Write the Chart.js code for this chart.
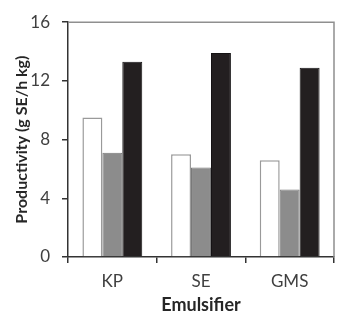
<!DOCTYPE html>
<html>
<head>
<meta charset="utf-8">
<script src="https://cdn.jsdelivr.net/npm/chart.js@4"></script>
<style>
  html, body { margin: 0; padding: 0; background: #fff; }
  #wrap { width: 350px; height: 316px; }
</style>
</head>
<body>
<div id="wrap"><canvas id="chart" width="350" height="316"></canvas></div>
<script>
// data
const emulsifiers = ['KP', 'SE', 'GMS']
const whiteBars = [9.5, 7.0, 6.6]
const greyBars = [7.1, 6.1, 4.6]
const blackBars = [13.3, 13.9, 12.9]
const yTicks = [0, 4, 8, 12, 16]

const FONT = 'Lato, "Open Sans", sans-serif'

// light grey frame on top and right of the plot
const frame = {
  id: 'frame',
  afterDraw(chart) {
    const { ctx, chartArea: a } = chart
    ctx.save()
    ctx.strokeStyle = '#8f8f8f'
    ctx.lineWidth = 1.5
    ctx.beginPath()
    ctx.moveTo(a.left, a.top)
    ctx.lineTo(a.right, a.top)
    ctx.lineTo(a.right, a.bottom)
    ctx.stroke()
    ctx.restore()
  }
}

const data = {
  labels: emulsifiers,
  datasets: [{
    label: 'Series 1',
    data: whiteBars,
    backgroundColor: '#ffffff',
    borderColor: '#9a9a9a',
    borderWidth: 1.5
  }, {
    label: 'Series 2',
    data: greyBars,
    backgroundColor: '#8c8c8c',
    borderColor: '#767676',
    borderWidth: 1
  }, {
    label: 'Series 3',
    data: blackBars,
    backgroundColor: '#231f20',
    borderColor: '#151314',
    borderWidth: 1
  }]
}

new Chart(document.getElementById('chart'), {
  type: 'bar',
  data: data,
  plugins: [frame],
  options: {
    responsive: false,
    animation: false,
    devicePixelRatio: 1,
    layout: { padding: { top: 22, right: 16, left: 0, bottom: 0 } },
    datasets: { bar: { categoryPercentage: 0.675, barPercentage: 1 } },
    plugins: { legend: { display: false }, tooltip: { enabled: false } },
    scales: {
      x: {
        grid: { offset: true, drawOnChartArea: false, drawTicks: true, tickLength: 6, color: '#333', lineWidth: 1.5 },
        border: { display: true, color: '#333', width: 1.5 },
        ticks: { color: '#404040', font: { family: FONT, size: 17 }, padding: 8 },
        title: { display: true, text: 'Emulsifier', color: '#262626', font: { family: FONT, size: 18, weight: 'bold' }, padding: { top: 0, bottom: 0 } },
        afterFit(scale) { scale.height = 59 }
      },
      y: {
        min: 0,
        max: 16,
        afterBuildTicks(scale) { scale.ticks = yTicks.map(v => ({ value: v })) },
        grid: { drawOnChartArea: false, drawTicks: true, tickLength: 6, color: '#333', lineWidth: 1.5 },
        border: { display: true, color: '#333', width: 1.5 },
        ticks: { color: '#404040', font: { family: FONT, size: 17 }, padding: 12 },
        title: { display: true, text: 'Productivity (g SE/h kg)', color: '#262626', font: { family: FONT, size: 16, weight: 'bold' }, padding: { top: 12, bottom: 0 } },
        afterFit(scale) { scale.width = 68 }
      }
    }
  }
})
</script>
</body>
</html>
